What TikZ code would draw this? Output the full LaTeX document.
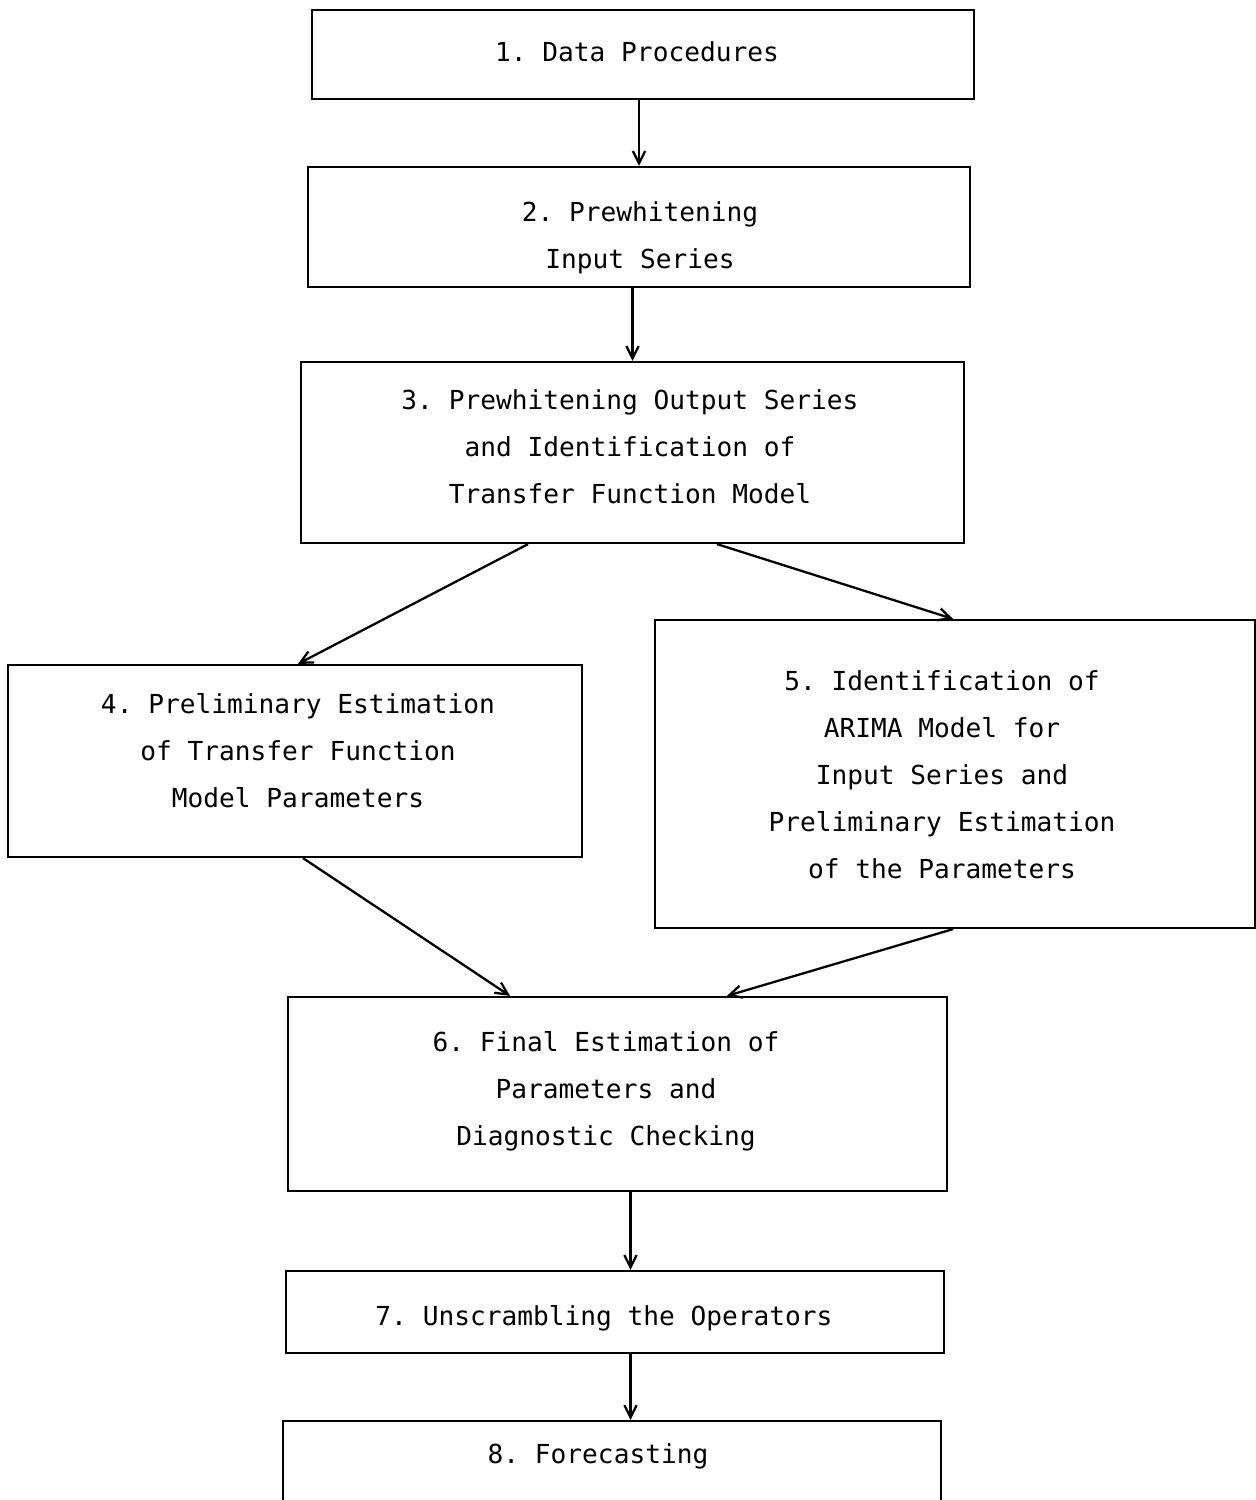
\documentclass[tikz,border=0pt]{standalone}
\usepackage{fontspec}
\setmonofont{DejaVu Sans Mono}
\usetikzlibrary{calc, arrows.meta}
\begin{document}
\begin{tikzpicture}[x = .02cm, y = -.02cm, >={Straight Barb[length=7pt, width=7pt]},
		stagebox/.style = {draw, line width = 1.3pt, inner sep = 0pt},
		stagetext/.style = {align = center, inner sep = 0pt,
			font = \ttfamily\fontsize{14.9}{26.7}\selectfont},
		flow/.style = {->, line width = 1.3pt}]
	\useasboundingbox (0,0) rectangle (1256,1500);
	% boxes
	\node[stagebox, minimum width = 13.24cm, minimum height = 1.78cm] (n1) at (643,54.5) {};
	\node[stagebox, minimum width = 13.24cm, minimum height = 2.40cm] (n2) at (639,227) {};
	\node[stagebox, minimum width = 13.26cm, minimum height = 3.62cm] (n3) at (632.5,452.5) {};
	\node[stagebox, minimum width = 11.48cm, minimum height = 3.84cm] (n4) at (295,761) {};
	\node[stagebox, minimum width = 12.00cm, minimum height = 6.16cm] (n5) at (955,774) {};
	\node[stagebox, minimum width = 13.18cm, minimum height = 3.88cm] (n6) at (617.5,1094) {};
	\node[stagebox, minimum width = 13.16cm, minimum height = 1.64cm] (n7) at (615,1312) {};
	\node[stagebox, anchor = north, minimum width = 13.16cm, minimum height = 3cm] (n8) at (612,1420) {};
	% texts
	\node[stagetext] (t1) at (637,52) {1. Data Procedures};
	\node[stagetext] (t2) at (640,237.5) {2. Prewhitening\\Input Series};
	\node[stagetext] (t3) at (630,446.5) {3. Prewhitening Output Series\\and Identification of\\Transfer Function Model};
	\node[stagetext] (t4) at (298,751) {4. Preliminary Estimation\\of Transfer Function\\Model Parameters};
	\node[stagetext] (t5) at (942,775) {5. Identification of\\ARIMA Model for\\Input Series and\\Preliminary Estimation\\of the Parameters};
	\node[stagetext] (t6) at (606,1091) {6. Final Estimation of\\Parameters and\\Diagnostic Checking};
	\node[stagetext] (t7) at (604,1318) {7. Unscrambling the Operators};
	\node[stagetext] (t8) at (598,1456) {8. Forecasting};
	% connectors
	\draw[flow] (n2.north |- n1.south) -- (n2.north);
	\draw[flow] (n3.north |- n2.south) -- (n3.north);
	\draw[flow] ($(n3.south)+(-104.5,0)$) -- ($(n4.north)+(3,0)$);
	\draw[flow] ($(n3.south)+(84.5,0)$) -- ($(n5.north)+(-2,0)$);
	\draw[flow] ($(n4.south)+(8,0)$) -- ($(n6.north)+(-107.5,0)$);
	\draw[flow] ($(n5.south)+(-2,0)$) -- ($(n6.north)+(109.5,0)$);
	\draw[flow] ($(n6.south)+(13,0)$) coordinate (a67) -- (a67 |- n7.north);
	\draw[flow] (a67 |- n7.south) -- (a67 |- n8.north);
\end{tikzpicture}
\end{document}
